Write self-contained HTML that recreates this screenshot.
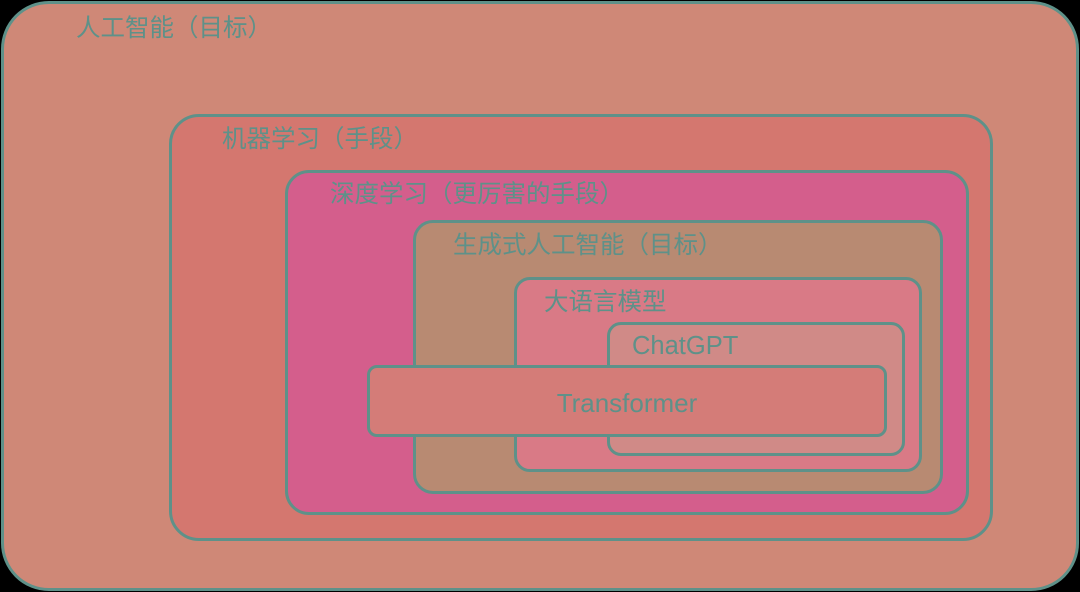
<!DOCTYPE html>
<html><head><meta charset="utf-8"><style>
html,body{margin:0;padding:0;background:#000;}
body{width:1080px;height:592px;position:relative;overflow:hidden;font-family:"Liberation Sans","Noto Sans CJK SC",sans-serif;}
.b{position:absolute;box-sizing:border-box;border:3px solid #5e9189;}
.t{position:absolute;color:#5e9189;font-size:24.5px;line-height:1;white-space:nowrap;}
</style></head><body>
<div class="b" style="left:1px;top:1px;width:1078px;height:590px;border-radius:48px;background:#cf8877;"></div>
<div class="b" style="left:169px;top:114px;width:824px;height:427px;border-radius:30px;background:#d4776f;"></div>
<div class="b" style="left:285px;top:170px;width:684px;height:345px;border-radius:24px;background:#d45e8c;"></div>
<div class="b" style="left:413px;top:220px;width:530px;height:274px;border-radius:20px;background:#b88a72;"></div>
<div class="b" style="left:514px;top:277px;width:408px;height:195px;border-radius:16px;background:#d97a86;"></div>
<div class="b" style="left:607px;top:322px;width:298px;height:134px;border-radius:14px;background:#d08a87;"></div>
<div class="b" style="left:367px;top:365px;width:520px;height:72px;border-radius:10px;background:#d47c78;"></div>
<div class="t" style="left:76px;top:17px;">人工智能（目标）</div>
<div class="t" style="left:222px;top:128px;">机器学习（手段）</div>
<div class="t" style="left:330px;top:183px;">深度学习（更厉害的手段）</div>
<div class="t" style="left:453px;top:234px;">生成式人工智能（目标）</div>
<div class="t" style="left:544px;top:291px;">大语言模型</div>
<div class="t" style="left:632px;top:334px;font-size:25.5px;">ChatGPT</div>
<div class="t" style="left:367px;top:390px;width:520px;text-align:center;font-size:26px;">Transformer</div>
</body></html>
